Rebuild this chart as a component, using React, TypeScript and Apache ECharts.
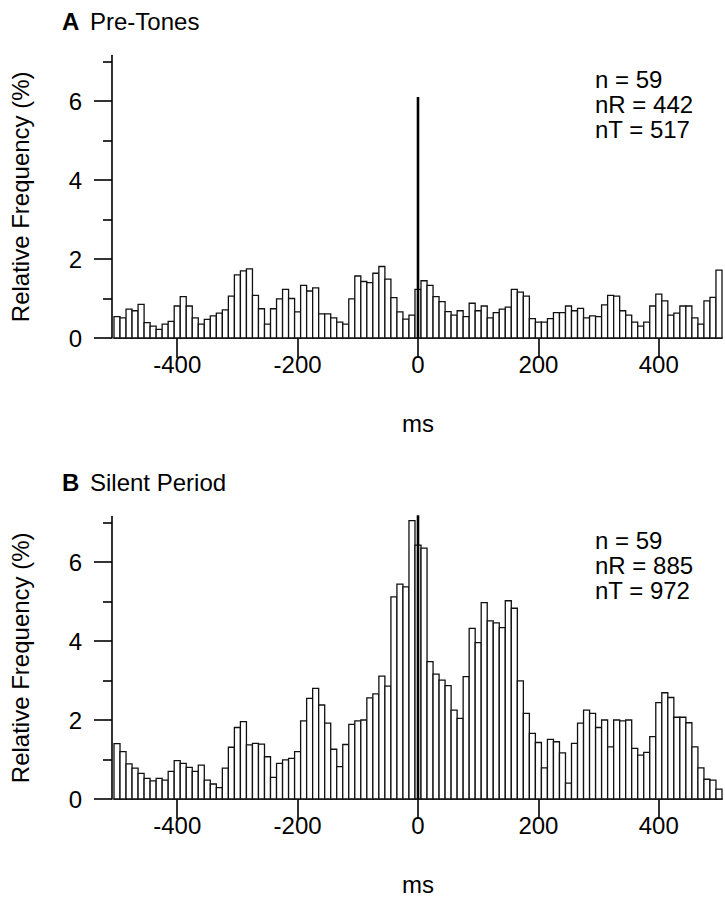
import React, { useEffect, useRef } from 'react';
import * as echarts from 'echarts';

// 101 bins of 10 ms, centred on -500, -490, ..., +500 ms
const binCentersMs: number[] = Array.from({ length: 101 }, (_, i) => -500 + 10 * i);
const binWidthMs = 10;

// Panel A: Pre-Tones (relative frequency, %)
const preTones: number[] = [
  0.54, 0.51, 0.73, 0.69, 0.85, 0.39, 0.30, 0.22, 0.35, 0.42,
  0.81, 1.05, 0.81, 0.51, 0.35, 0.47, 0.56, 0.63, 0.71, 1.06,
  1.60, 1.70, 1.75, 1.08, 0.74, 0.35, 0.74, 0.99, 1.23, 1.00,
  0.66, 1.33, 1.19, 1.27, 0.61, 0.61, 0.51, 0.40, 0.35, 0.99,
  1.57, 1.43, 1.40, 1.64, 1.81, 1.49, 1.02, 0.66, 0.48, 0.58,
  1.23, 1.45, 1.33, 1.05, 0.92, 0.67, 0.58, 0.69, 0.54, 0.88,
  0.69, 0.81, 0.51, 0.64, 0.73, 0.78, 1.23, 1.16, 1.06, 0.49,
  0.40, 0.40, 0.49, 0.64, 0.64, 0.81, 0.69, 0.75, 0.51, 0.56,
  0.54, 0.84, 1.08, 1.06, 0.69, 0.58, 0.40, 0.30, 0.40, 0.81,
  1.11, 0.94, 0.58, 0.63, 0.81, 0.81, 0.51, 0.35, 0.94, 1.03,
  1.72,
];

// Panel B: Silent Period (relative frequency, %)
const silentPeriod: number[] = [
  1.40, 1.20, 0.89, 0.78, 0.65, 0.52, 0.46, 0.52, 0.48, 0.70,
  0.97, 0.90, 0.80, 0.70, 0.86, 0.48, 0.38, 0.29, 0.78, 1.31,
  1.81, 1.96, 1.37, 1.41, 1.39, 1.07, 0.55, 0.90, 0.99, 1.03,
  1.20, 1.98, 2.55, 2.80, 2.38, 1.92, 1.26, 0.82, 1.38, 1.89,
  1.98, 2.00, 2.56, 2.66, 3.11, 2.86, 5.12, 5.44, 5.37, 7.05,
  6.43, 6.35, 3.48, 3.16, 3.01, 2.87, 2.25, 2.04, 3.10, 4.32,
  3.96, 4.97, 4.51, 4.46, 4.34, 5.02, 4.83, 2.99, 2.17, 1.66,
  1.43, 0.79, 1.51, 1.45, 1.17, 0.40, 1.41, 1.92, 2.25, 2.17,
  1.81, 2.00, 1.32, 2.00, 1.98, 2.00, 1.28, 1.11, 1.18, 1.58,
  2.44, 2.69, 2.57, 2.07, 2.07, 1.93, 1.32, 0.79, 0.50, 0.48,
  0.25,
];

const xTickValues: number[] = [-400, -200, 0, 200, 400];
const yMajorTicks: number[] = [0, 2, 4, 6];
const yMinorTicks: number[] = [1, 3, 5, 7];
const zeroLineTops: number[] = [6.1, 7.2];

const panelLetters: string[] = ['A', 'B'];
const panelTitles: string[] = ['Pre-Tones', 'Silent Period'];
const statsA: string[] = ['n = 59', 'nR = 442', 'nT = 517'];
const statsB: string[] = ['n = 59', 'nR = 885', 'nT = 972'];

const FONT = "'Liberation Sans', Arial, Helvetica, sans-serif";
const FS = 24;

export default function App() {
  const ref = useRef<HTMLDivElement>(null);

  useEffect(() => {
    document.body.style.margin = '0';
    if (!ref.current) return;
    const chart = echarts.init(ref.current, undefined, { renderer: 'svg' });

    const plotLeft = 112;
    const plotWidth = 610;
    const plotHeight = 282.4;
    const tops = [55.6, 516.6];
    const yMax = 7.15;

    const grids = tops.map((t) => ({ left: plotLeft, width: plotWidth, top: t, height: plotHeight }));

    const xAxes = tops.map((_, gi) => ({
      type: 'value',
      gridIndex: gi,
      min: -505,
      max: 505,
      splitLine: { show: false },
      axisLine: { show: true, onZero: false, lineStyle: { color: '#000', width: 1.6 } },
      axisTick: { show: true, customValues: xTickValues, length: 20, lineStyle: { color: '#000', width: 1.6 } },
      axisLabel: {
        show: true,
        customValues: xTickValues,
        color: '#000',
        fontSize: FS,
        fontFamily: FONT,
        margin: 14,
      },
      name: 'ms',
      nameLocation: 'middle',
      nameGap: 73,
      nameTextStyle: { color: '#000', fontSize: FS, fontFamily: FONT },
    }));

    const yAxes: any[] = [];
    tops.forEach((_, gi) => {
      yAxes.push({
        type: 'value',
        gridIndex: gi,
        position: 'left',
        offset: 2,
        min: 0,
        max: yMax,
        splitLine: { show: false },
        axisLine: { show: true, onZero: false, lineStyle: { color: '#000', width: 1.6 } },
        axisTick: { show: true, customValues: yMajorTicks, length: 18, lineStyle: { color: '#000', width: 1.6 } },
        axisLabel: {
          show: true,
          customValues: yMajorTicks,
          color: '#000',
          fontSize: FS,
          fontFamily: FONT,
          margin: 30,
        },
        name: 'Relative Frequency (%)',
        nameLocation: 'middle',
        nameGap: 80,
        nameTextStyle: { color: '#000', fontSize: FS, fontFamily: FONT },
      });
      yAxes.push({
        type: 'value',
        gridIndex: gi,
        position: 'left',
        offset: 2,
        min: 0,
        max: yMax,
        splitLine: { show: false },
        axisLine: { show: false, onZero: false },
        axisTick: { show: true, customValues: yMinorTicks, length: 9, lineStyle: { color: '#000', width: 1.6 } },
        axisLabel: { show: false },
      });
    });

    const makeBars = (vals: number[], gi: number) => ({
      type: 'custom',
      xAxisIndex: gi,
      yAxisIndex: gi * 2,
      data: binCentersMs.map((c, i) => [c, vals[i]]),
      encode: { x: 0, y: 1 },
      renderItem: (params: any, api: any) => {
        const c = api.value(0);
        const v = api.value(1);
        const p0 = api.coord([c - binWidthMs / 2, v]);
        const p1 = api.coord([c + binWidthMs / 2, 0]);
        return {
          type: 'rect',
          shape: { x: p0[0], y: p0[1], width: p1[0] - p0[0], height: p1[1] - p0[1] },
          style: { fill: '#fff', stroke: '#111', lineWidth: 1.3 },
        };
      },
      z: 2,
    });

    const makeZeroLine = (gi: number) => ({
      type: 'line',
      xAxisIndex: gi,
      yAxisIndex: gi * 2,
      data: [
        [0, 0],
        [0, zeroLineTops[gi]],
      ],
      symbol: 'none',
      lineStyle: { color: '#000', width: 2.6 },
      z: 5,
      silent: true,
    });

    const graphics: any[] = [];
    tops.forEach((t, gi) => {
      const titleY = t - 34;
      graphics.push({
        type: 'text',
        x: 62,
        y: titleY,
        style: { text: panelLetters[gi], font: `bold ${FS}px ${FONT}`, fill: '#000', verticalAlign: 'middle' },
      });
      graphics.push({
        type: 'text',
        x: 90,
        y: titleY,
        style: { text: panelTitles[gi], font: `${FS}px ${FONT}`, fill: '#000', verticalAlign: 'middle' },
      });
      const stats = gi === 0 ? statsA : statsB;
      stats.forEach((s, k) => {
        graphics.push({
          type: 'text',
          x: 595,
          y: t + 24 + k * 25,
          style: { text: s, font: `${FS}px ${FONT}`, fill: '#000', verticalAlign: 'middle' },
        });
      });
    });

    chart.setOption({
      animation: false,
      backgroundColor: '#fff',
      grid: grids,
      xAxis: xAxes,
      yAxis: yAxes,
      series: [makeBars(preTones, 0), makeZeroLine(0), makeBars(silentPeriod, 1), makeZeroLine(1)],
      graphic: graphics,
    });

    return () => {
      chart.dispose();
    };
  }, []);

  return <div ref={ref} style={{ width: 725, height: 899 }} />;
}
